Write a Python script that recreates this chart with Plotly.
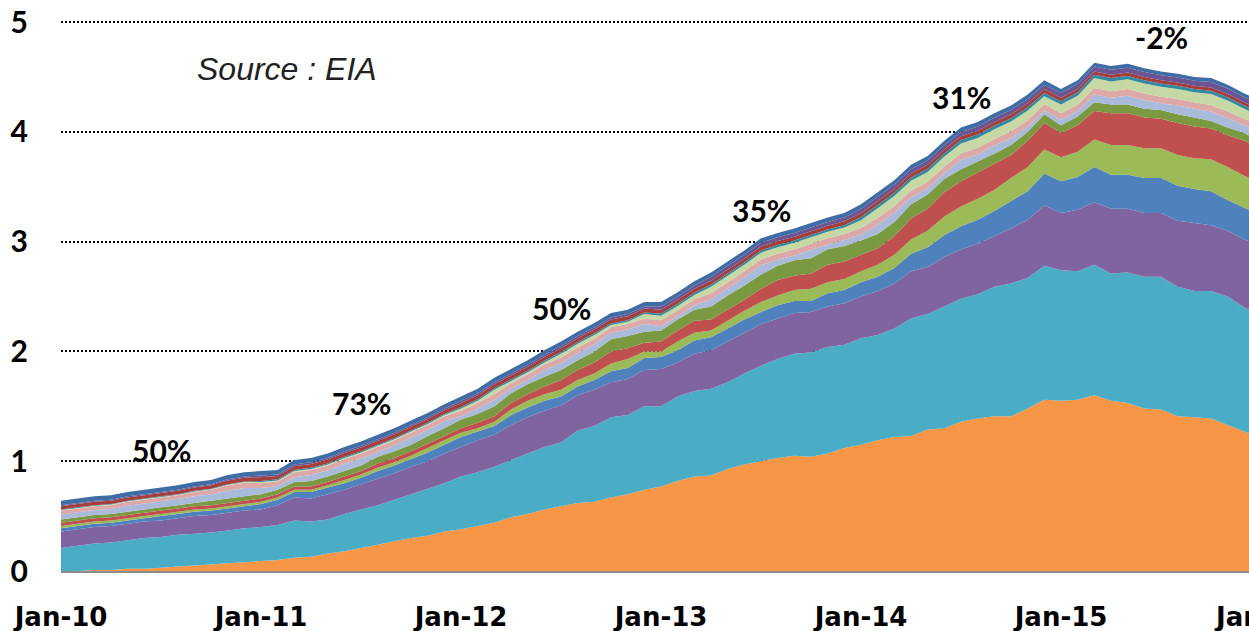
import plotly.graph_objects as go
import pandas as pd

# Monthly categories Jan-10 .. Jan-16
months = pd.date_range("2010-01-01", "2016-01-01", freq="MS").strftime("%b-%y").tolist()
tick_labels = ["Jan-10", "Jan-11", "Jan-12", "Jan-13", "Jan-14", "Jan-15"]
growth_labels = ["50%", "73%", "50%", "35%", "31%", "-2%"]

# Series values (million b/d), bottom to top
eagle_ford = [0.00,0.00,0.01,0.01,0.02,0.02,0.03,0.04,0.05,0.06,0.07,0.08,
              0.09,0.10,0.12,0.13,0.16,0.18,0.21,0.24,0.27,0.30,0.32,0.36,
              0.38,0.41,0.44,0.49,0.52,0.56,0.59,0.62,0.63,0.67,0.70,0.74,
              0.77,0.82,0.86,0.87,0.93,0.97,1.00,1.03,1.05,1.04,1.07,1.12,
              1.15,1.19,1.22,1.23,1.29,1.30,1.36,1.39,1.41,1.41,1.48,1.56,
              1.55,1.56,1.60,1.55,1.53,1.48,1.47,1.41,1.40,1.39,1.33,1.27,1.22]
bakken = [0.21,0.23,0.24,0.25,0.26,0.28,0.28,0.29,0.29,0.29,0.30,0.31,
          0.31,0.32,0.34,0.32,0.31,0.34,0.35,0.36,0.38,0.40,0.43,0.44,
          0.48,0.49,0.51,0.52,0.55,0.57,0.58,0.66,0.69,0.73,0.72,0.76,
          0.73,0.77,0.78,0.79,0.79,0.83,0.87,0.90,0.93,0.95,0.97,0.94,
          0.97,0.96,0.99,1.07,1.05,1.11,1.12,1.13,1.18,1.21,1.19,1.22,
          1.19,1.17,1.19,1.16,1.19,1.20,1.21,1.18,1.15,1.16,1.17,1.13,1.11]
spraberry = [0.15,0.15,0.15,0.15,0.15,0.15,0.15,0.15,0.16,0.16,0.16,0.16,
             0.16,0.18,0.21,0.21,0.23,0.22,0.23,0.24,0.24,0.25,0.25,0.27,
             0.27,0.29,0.29,0.32,0.33,0.33,0.34,0.32,0.33,0.32,0.33,0.33,
             0.34,0.31,0.34,0.35,0.37,0.37,0.38,0.37,0.37,0.37,0.37,0.38,
             0.38,0.40,0.41,0.43,0.43,0.45,0.45,0.46,0.46,0.50,0.53,0.55,
             0.52,0.56,0.57,0.59,0.58,0.58,0.58,0.60,0.62,0.60,0.60,0.62,0.63]
wolfcamp = [0.03,0.03,0.03,0.03,0.03,0.03,0.04,0.04,0.04,0.04,0.04,0.04,
            0.05,0.05,0.05,0.06,0.06,0.06,0.06,0.07,0.07,0.07,0.08,0.08,
            0.09,0.08,0.08,0.09,0.09,0.09,0.08,0.08,0.09,0.10,0.10,0.11,
            0.11,0.11,0.12,0.12,0.12,0.12,0.11,0.12,0.11,0.10,0.12,0.12,
            0.13,0.13,0.14,0.16,0.18,0.20,0.21,0.22,0.23,0.25,0.26,0.29,
            0.29,0.30,0.32,0.31,0.31,0.32,0.32,0.32,0.31,0.31,0.28,0.29,0.28]
bonespring = [0.02,0.02,0.02,0.02,0.02,0.02,0.02,0.02,0.02,0.02,0.02,0.02,
              0.02,0.02,0.02,0.02,0.02,0.03,0.03,0.03,0.03,0.03,0.04,0.04,
              0.04,0.03,0.04,0.05,0.06,0.06,0.06,0.06,0.06,0.07,0.08,0.06,
              0.05,0.08,0.07,0.06,0.07,0.08,0.09,0.09,0.10,0.11,0.10,0.10,
              0.10,0.11,0.12,0.13,0.15,0.17,0.18,0.19,0.19,0.21,0.22,0.22,
              0.22,0.23,0.25,0.27,0.27,0.27,0.27,0.28,0.28,0.29,0.30,0.29,0.29]
niobrara = [0.03,0.03,0.03,0.03,0.03,0.03,0.03,0.03,0.03,0.03,0.03,0.03,
            0.03,0.03,0.03,0.03,0.03,0.03,0.03,0.04,0.04,0.04,0.04,0.04,
            0.04,0.05,0.05,0.06,0.06,0.07,0.09,0.09,0.10,0.11,0.10,0.08,
            0.09,0.10,0.11,0.10,0.10,0.10,0.12,0.14,0.13,0.14,0.16,0.16,
            0.15,0.15,0.17,0.19,0.20,0.22,0.23,0.24,0.24,0.21,0.24,0.24,
            0.22,0.24,0.26,0.29,0.29,0.28,0.27,0.29,0.29,0.28,0.29,0.32,0.32]
austin_chalk = [0.03,0.03,0.03,0.03,0.03,0.03,0.03,0.03,0.03,0.04,0.04,0.04,
                0.04,0.04,0.04,0.05,0.05,0.05,0.05,0.06,0.06,0.06,0.07,0.07,
                0.08,0.08,0.09,0.09,0.09,0.09,0.09,0.09,0.10,0.11,0.11,0.10,
                0.10,0.10,0.10,0.12,0.13,0.13,0.13,0.13,0.14,0.14,0.14,0.14,
                0.13,0.13,0.13,0.13,0.13,0.12,0.11,0.10,0.09,0.09,0.08,0.08,
                0.07,0.08,0.08,0.08,0.08,0.08,0.08,0.08,0.08,0.07,0.07,0.07,0.07]
granite_wash = [0.045,0.045,0.045,0.045,0.055,0.055,0.055,0.055,0.06,0.06,0.07,0.075,
                0.055,0.035,0.045,0.055,0.055,0.065,0.065,0.045,0.055,0.065,0.055,0.065,
                0.03,0.05,0.06,0.04,0.04,0.06,0.065,0.065,0.065,0.06,0.06,0.07,
                0.04,0.03,0.04,0.065,0.065,0.075,0.085,0.055,0.045,0.075,0.045,0.055,
                0.055,0.085,0.085,0.065,0.055,0.055,0.085,0.065,0.075,0.065,0.045,0.035,
                0.05,0.05,0.07,0.06,0.08,0.08,0.06,0.08,0.08,0.085,0.085,0.07,0.07]
woodford = [0.035,0.035,0.035,0.035,0.035,0.035,0.035,0.035,0.04,0.04,0.05,0.05,
            0.045,0.04,0.045,0.045,0.045,0.045,0.045,0.045,0.045,0.045,0.045,0.045,
            0.05,0.05,0.05,0.05,0.05,0.05,0.05,0.05,0.05,0.05,0.05,0.05,
            0.055,0.055,0.055,0.055,0.055,0.055,0.055,0.055,0.055,0.055,0.055,0.055,
            0.06,0.06,0.06,0.06,0.06,0.06,0.06,0.06,0.06,0.06,0.06,0.06,
            0.06,0.06,0.06,0.06,0.06,0.06,0.06,0.06,0.06,0.06,0.06,0.06,0.06]
marcellus = [0.005,0.005,0.005,0.005,0.005,0.005,0.005,0.005,0.005,0.005,0.005,0.005,
             0.01,0.01,0.01,0.01,0.01,0.01,0.01,0.01,0.01,0.01,0.01,0.01,
             0.02,0.02,0.04,0.02,0.02,0.02,0.035,0.035,0.035,0.02,0.02,0.04,
             0.04,0.04,0.04,0.06,0.06,0.06,0.06,0.06,0.06,0.06,0.06,0.06,
             0.07,0.09,0.09,0.09,0.09,0.09,0.09,0.09,0.09,0.09,0.09,0.07,
             0.08,0.08,0.09,0.09,0.09,0.09,0.09,0.09,0.09,0.10,0.10,0.09,0.09]
haynesville = [0.005,0.005,0.005,0.005,0.005,0.005,0.005,0.005,0.005,0.005,0.005,0.005,
               0.01,0.01,0.01,0.01,0.01,0.01,0.01,0.01,0.01,0.01,0.01,0.01,
               0.015,0.015,0.015,0.015,0.015,0.015,0.015,0.015,0.015,0.015,0.015,0.015,
               0.02,0.02,0.02,0.02,0.02,0.02,0.02,0.02,0.02,0.02,0.02,0.02,
               0.03,0.03,0.03,0.03,0.03,0.03,0.03,0.03,0.03,0.03,0.03,0.03,
               0.03,0.03,0.03,0.03,0.03,0.03,0.03,0.03,0.03,0.03,0.03,0.03,0.03]
yeso_glorieta = [0.03,0.03,0.03,0.03,0.03,0.03,0.03,0.03,0.03,0.03,0.035,0.035,
                 0.035,0.03,0.035,0.035,0.035,0.035,0.035,0.035,0.035,0.035,0.035,0.035,
                 0.035,0.035,0.035,0.035,0.035,0.035,0.035,0.035,0.035,0.035,0.035,0.035,
                 0.035,0.035,0.035,0.035,0.035,0.035,0.035,0.035,0.035,0.035,0.035,0.035,
                 0.035,0.035,0.035,0.035,0.035,0.035,0.035,0.035,0.035,0.035,0.035,0.035,
                 0.03,0.03,0.03,0.03,0.03,0.03,0.03,0.03,0.03,0.03,0.03,0.03,0.03]
delaware = [0.01,0.01,0.01,0.01,0.01,0.01,0.01,0.01,0.01,0.01,0.01,0.01,
            0.015,0.015,0.015,0.015,0.015,0.015,0.015,0.015,0.015,0.015,0.015,0.015,
            0.02,0.02,0.02,0.02,0.02,0.02,0.02,0.02,0.02,0.02,0.02,0.02,
            0.03,0.03,0.03,0.035,0.035,0.035,0.035,0.035,0.035,0.035,0.035,0.035,
            0.04,0.04,0.04,0.04,0.04,0.04,0.04,0.04,0.04,0.04,0.04,0.04,
            0.045,0.045,0.045,0.045,0.045,0.045,0.045,0.045,0.045,0.05,0.05,0.045,0.045]
others = [0.04,0.04,0.04,0.04,0.04,0.04,0.04,0.04,0.04,0.04,0.04,0.04,
          0.04,0.04,0.04,0.04,0.04,0.04,0.04,0.04,0.04,0.04,0.04,0.04,
          0.04,0.04,0.04,0.04,0.04,0.04,0.04,0.04,0.04,0.04,0.04,0.04,
          0.04,0.04,0.04,0.04,0.04,0.04,0.04,0.04,0.04,0.04,0.04,0.04,
          0.04,0.04,0.04,0.04,0.04,0.04,0.04,0.04,0.04,0.04,0.04,0.04,
          0.035,0.035,0.035,0.035,0.035,0.035,0.035,0.035,0.035,0.035,0.035,0.035,0.035]

series = [
    ("Eagle Ford", eagle_ford, "#F79646"),
    ("Bakken", bakken, "#4BACC6"),
    ("Spraberry", spraberry, "#8064A2"),
    ("Wolfcamp", wolfcamp, "#4F81BD"),
    ("Bone Spring", bonespring, "#9BBB59"),
    ("Niobrara", niobrara, "#C0504D"),
    ("Austin Chalk", austin_chalk, "#7A9A42"),
    ("Granite Wash", granite_wash, "#A9BADB"),
    ("Woodford", woodford, "#DCA9A8"),
    ("Marcellus", marcellus, "#C6D9A5"),
    ("Haynesville", haynesville, "#3289A0"),
    ("Yeso-Glorieta", yeso_glorieta, "#A23E3B"),
    ("Delaware", delaware, "#6A5592"),
    ("Others", others, "#3E6CA5"),
]

x_idx = list(range(len(months)))

fig = go.Figure()
for name, vals, color in series:
    fig.add_trace(go.Scatter(
        x=x_idx, y=vals, name=name, stackgroup="one", mode="none",
        fillcolor=color, text=months, hoverinfo="text+y+name",
    ))

label_font = dict(family="Lato", size=30, color="black", weight="bold")
xtick_font = dict(family="DejaVu Sans", size=26, color="black", weight="bold")

# growth annotations (mid-year positions)
ann_x = [6, 18, 30, 42, 54, 66]
ann_y = [1.099, 1.528, 2.395, 3.289, 4.320, 4.868]
annotations = []
for gx, gy, gt in zip(ann_x, ann_y, growth_labels):
    annotations.append(dict(x=gx, y=gy, xref="x", yref="y", text=gt, showarrow=False,
                            font=label_font, xanchor="center", yanchor="middle"))
annotations.append(dict(x=0.19, y=0.912, xref="paper", yref="paper", text="<i>Source : EIA</i>",
                        showarrow=False, font=dict(family="Liberation Sans", size=32, color="#222222"),
                        xanchor="center", yanchor="middle"))
annotations.append(dict(x=72 / 71.28, y=-0.0838, xref="paper", yref="paper", text="Jan-16",
                        showarrow=False, font=xtick_font, xanchor="center", yanchor="middle"))

fig.update_layout(
    width=1249, height=631,
    margin=dict(l=61, r=0, t=21, b=60, autoexpand=False),
    paper_bgcolor="white", plot_bgcolor="white",
    showlegend=False,
    annotations=annotations,
    xaxis=dict(range=[0, 71.28], tickvals=[0, 12, 24, 36, 48, 60], ticktext=tick_labels,
               showgrid=False, zeroline=False, showline=True, linecolor="#8C8C8C", linewidth=2,
               ticks="", tickfont=xtick_font, ticklabelstandoff=22, automargin=False),
    yaxis=dict(range=[0, 5.01], tickvals=[0, 1, 2, 3, 4, 5], showgrid=True, gridcolor="black",
               griddash="2px,2px", gridwidth=2, zeroline=False, showline=False, ticks="",
               tickfont=label_font, ticklabelstandoff=32, automargin=False),
)

fig.write_html("out.html", config={"displayModeBar": False},
               post_script="document.body.style.margin='0';document.body.style.overflow='hidden';")
